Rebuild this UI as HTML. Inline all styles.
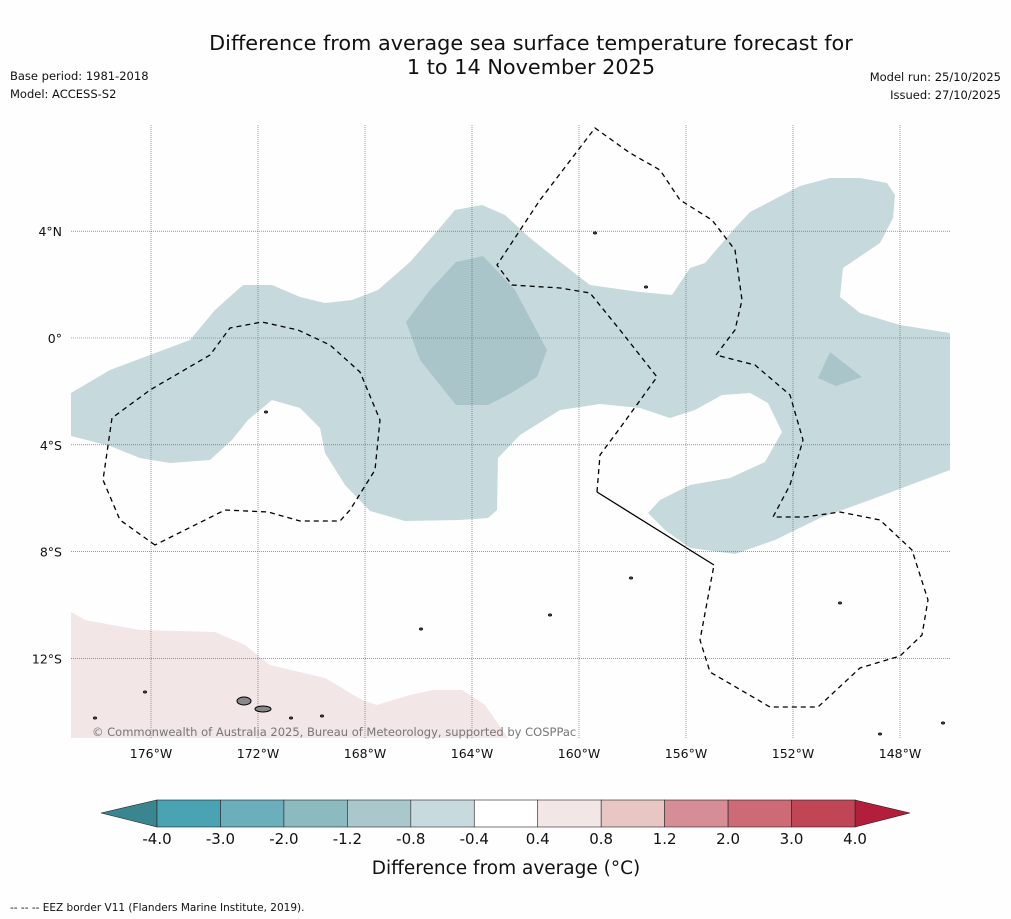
<!DOCTYPE html>
<html><head><meta charset="utf-8"><style>
body{margin:0;background:#fefefe;font-family:"DejaVu Sans","Liberation Sans",sans-serif}
svg{display:block;font-family:"DejaVu Sans","Liberation Sans",sans-serif}
</style></head><body>
<svg id="chart" width="1011" height="919" viewBox="0 0 1011 919">
<rect width="1011" height="919" fill="#fefefe"/>
<text x="531" y="50" text-anchor="middle" font-size="20.8" fill="#111">Difference from average sea surface temperature forecast for</text>
<text x="531" y="74" text-anchor="middle" font-size="20.8" fill="#111">1 to 14 November 2025</text>
<text x="10" y="80" font-size="11.5" fill="#111">Base period: 1981-2018</text>
<text x="10" y="98" font-size="11.5" fill="#111">Model: ACCESS-S2</text>
<text x="1001" y="81" text-anchor="end" font-size="11.5" fill="#111">Model run: 25/10/2025</text>
<text x="1001" y="99" text-anchor="end" font-size="11.5" fill="#111">Issued: 27/10/2025</text>
<g id="map"></g>
<g id="cbar"></g>
<text x="506" y="874" text-anchor="middle" font-size="18.5" fill="#111">Difference from average (°C)</text>
<text x="10" y="911" font-size="10.5" fill="#111">--  --  -- EEZ border V11 (Flanders Marine Institute, 2019).</text>
</svg>
<script>
const lonTicks=[-176,-172,-168,-164,-160,-156,-152,-148];
const lonLabels=["176°W","172°W","168°W","164°W","160°W","156°W","152°W","148°W"];
const latTicks=[4,0,-4,-8,-12];
const latLabels=["4°N","0°","4°S","8°S","12°S"];
const cbarLevels=["-4.0","-3.0","-2.0","-1.2","-0.8","-0.4","0.4","0.8","1.2","2.0","3.0","4.0"];
const cbarColors=["#4aa3b3","#6aafbb","#8cbac1","#aac7cc","#c7dadd","#ffffff","#f3e6e6","#e8c6c3","#d78d95","#cc6a75","#c04656"];
const px=[[71,393],[110,370],[150,355],[190,340],[215,310],[243,285],[272,285],[300,297],[325,303],[352,300],[378,290],[410,262],[432,237],[455,210],[482,205],[505,215],[530,238],[555,258],[590,285],[640,292],[672,295],[690,268],[705,263],[735,228],[750,212],[800,186],[830,178],[860,178],[887,183],[895,195],[893,218],[880,243],[843,268],[840,297],[860,313],[900,325],[950,333],[950,470],[910,485],[870,500],[820,518],[775,540],[735,554],[690,548],[665,530],[648,513],[660,500],[690,485],[730,478],[765,462],[782,432],[768,403],[750,393],[722,395],[695,410],[670,418],[640,408],[600,404],[560,410],[520,435],[498,458],[497,510],[488,518],[460,520],[405,521],[370,511],[345,485],[325,453],[320,428],[300,408],[272,400],[248,420],[232,440],[210,460],[170,463],[140,458],[110,446],[71,436]];
const darkPx=[[406,322],[430,290],[456,262],[483,256],[515,290],[547,350],[537,377],[513,392],[488,405],[456,405],[440,385],[420,360]];
const dark2Px=[[818,378],[830,352],[862,377],[836,386]];
const pinkPx=[[71,612],[85,620],[140,630],[215,632],[245,645],[270,665],[325,678],[362,700],[377,705],[410,695],[433,690],[462,690],[485,705],[508,738],[71,738]];
function toLL(a){return a.map(p=>[(p[0]-151)/26.75-176,(338-p[1])/26.7]);}
const blueLL=toLL(px),darkLL=toLL(darkPx),dark2LL=toLL(dark2Px),pinkLL=toLL(pinkPx);
const X=lon=>151+(lon+176)*26.75, Y=lat=>338-lat*26.7;
const NS='http://www.w3.org/2000/svg';
const map=document.getElementById('map');
function mk(tag,attrs,parent){const e=document.createElementNS(NS,tag);for(const k in attrs)e.setAttribute(k,attrs[k]);parent.appendChild(e);return e;}
function poly(ll,fill,name){const e=mk('polygon',{points:ll.map(p=>X(p[0]).toFixed(1)+','+Y(p[1]).toFixed(1)).join(' '),fill:fill},map);

}
poly(pinkLL,'#f2e6e6','warm-anomaly-region');
poly(blueLL,'#c6d9dc','cool-anomaly-region');
poly(darkLL,'#aac5ca','cooler-anomaly-region');
poly(dark2LL,'#aac5ca','cooler-anomaly-patch');
lonTicks.forEach((l,i)=>{const g=mk('line',{x1:X(l),x2:X(l),y1:125,y2:738,stroke:'#7a4a6a','stroke-width':0.6,'stroke-dasharray':'1,1'},map);


const t=mk('text',{x:X(l),y:758,'text-anchor':'middle','font-size':12.5,fill:'#111'},map);t.textContent=lonLabels[i];

});
latTicks.forEach((l,i)=>{const g=mk('line',{x1:71,x2:950,y1:Y(l),y2:Y(l),stroke:'#7a4a6a','stroke-width':0.6,'stroke-dasharray':'1,1'},map);


const t=mk('text',{x:62,y:Y(l)+5,'text-anchor':'end','font-size':12.5,fill:'#111'},map);t.textContent=latLabels[i];

});
function path(d,dash,name){const e=mk('path',{d:d,fill:'none',stroke:'#000','stroke-width':1.3,'stroke-dasharray':dash},map);

}
path('M155,545 L120,520 L103,480 L112,418 L150,390 L210,355 L230,328 L262,322 L298,330 L330,345 L360,372 L380,420 L375,470 L350,510 L340,521 L300,521 L268,512 L225,510 Z','5,4','eez-border-west');
path('M597,492 L600,455 L620,428 L657,377 L620,330 L590,293 L560,288 L512,285 L497,265 L540,200 L595,128 L630,153 L660,170 L680,200 L712,220 L735,250 L742,300 L735,330 L716,355 L755,365 L790,395 L803,440 L790,485 L773,517 L805,517 L840,512 L880,520 L912,550 L928,600 L922,635 L900,656 L860,668 L818,707 L770,707 L710,672 L700,640 L714,565','5,4','eez-border-east');
path('M597,492 L714,565','','eez-border-solid');
[[646,287],[595,233],[145,692],[95,718],[291,718],[322,716],[550,615],[631,578],[421,629],[266,412],[840,603],[880,734],[943,723]].forEach(p=>{const e=mk('ellipse',{cx:p[0],cy:p[1],rx:1.5,ry:1,fill:'#888',stroke:'#000','stroke-width':1},map);

});
[[244,701,7,4],[263,709,8,3]].forEach(p=>{const e=mk('ellipse',{cx:p[0],cy:p[1],rx:p[2],ry:p[3],fill:'#888',stroke:'#000','stroke-width':1},map);

});
const cr=mk('text',{x:92,y:736,'font-size':11.5,fill:'#777'},map);cr.textContent='© Commonwealth of Australia 2025, Bureau of Meteorology, supported by COSPPac';


const cb=document.getElementById('cbar');const x0=157,x1=855,w=(x1-x0)/cbarColors.length;
const lt=mk('polygon',{points:`101,813 ${x0},800 ${x0},827`,fill:'#3a8690',stroke:'#222','stroke-width':0.6},cb);


const rt=mk('polygon',{points:`910,813 ${x1},800 ${x1},827`,fill:'#b31e3b',stroke:'#222','stroke-width':0.6},cb);


cbarColors.forEach((c,i)=>{const r=mk('rect',{x:x0+i*w,y:800,width:w,height:27,fill:c,stroke:'#222','stroke-width':0.6},cb);

});
cbarLevels.forEach((l,i)=>{const t=mk('text',{x:x0+i*w,y:844,'text-anchor':'middle','font-size':15,fill:'#111'},cb);t.textContent=l;

});
</script>
</body></html>
